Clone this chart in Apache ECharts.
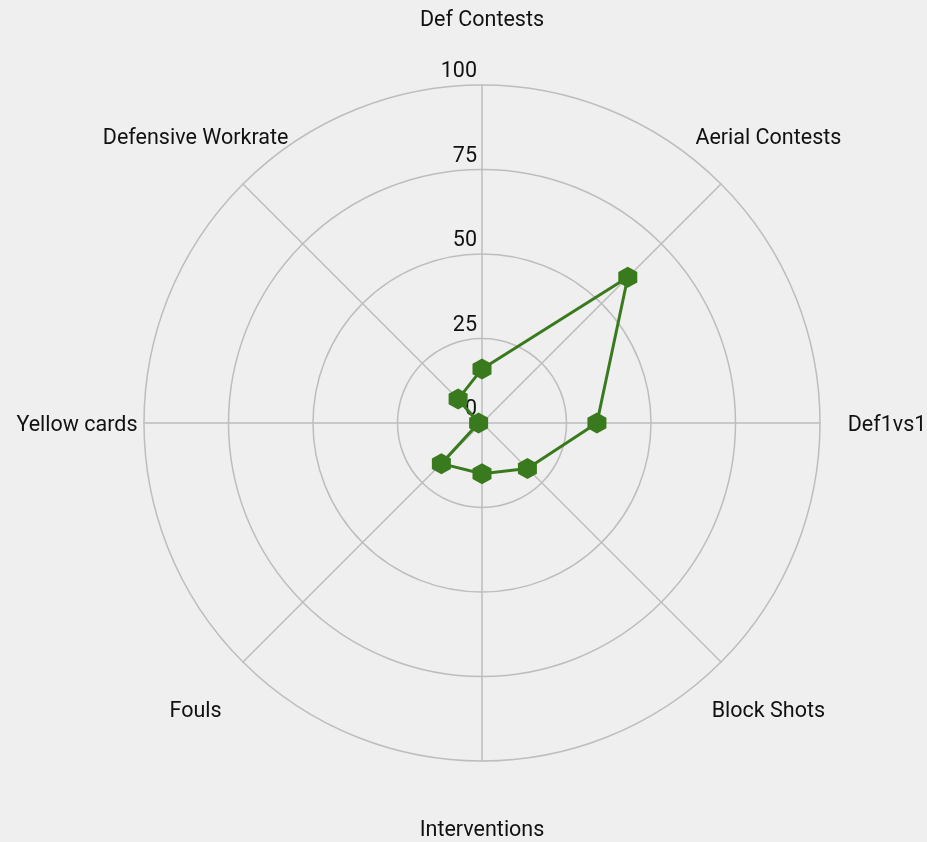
<!DOCTYPE html>
<html>
<head>
<meta charset="utf-8">
<script src="https://cdn.jsdelivr.net/npm/echarts@6/dist/echarts.min.js"></script>
<style>
html,body{margin:0;padding:0;background:#efefef;}
#chart{width:927px;height:842px;}
</style>
</head>
<body>
<div id="chart"></div>
<script>
// clockwise from top
const categories = ['Def Contests','Aerial Contests','Def1vs1','Block Shots','Interventions','Fouls','Yellow cards','Defensive Workrate'];
const values = [16, 61, 34, 19, 15, 17, 1, 10];
const radiusTicks = [0, 25, 50, 75, 100];

// ECharts radar runs counter-clockwise: reorder (first stays at top)
const order = [0].concat(categories.slice(1).map((_, i) => categories.length - 1 - i));
const maxV = radiusTicks[radiusTicks.length - 1];
const indicator = order.map((idx, k) => {
  const ind = {name: categories[idx], min: radiusTicks[0], max: maxV};
  if (k !== 0) ind.axisLabel = {show: false};
  return ind;
});
const radarValues = order.map(idx => values[idx]);

const chart = echarts.init(document.getElementById('chart'), null, {renderer: 'canvas'});
const gridColor = '#bdbdbd';
chart.setOption({
  backgroundColor: '#efefef',
  animation: false,
  textStyle: {fontFamily: 'Roboto'},
  radar: {
    center: [482, 423],
    radius: 338,
    shape: 'circle',
    splitNumber: radiusTicks.length - 1,
    indicator: indicator,
    nameGap: 67,
    axisName: {
      color: '#111', fontSize: 21.5, fontFamily: 'Roboto',
      align: 'center', verticalAlign: 'middle',
      lineHeight: 22,
      rich: {n: {fontSize: 21.5, fontFamily: 'Roboto', color: '#111', lineHeight: 22, padding: [5, 0, 0, 0]}},
      formatter: function (name) { return '{n|' + name + '}'; }
    },
    axisLine: {show: true, lineStyle: {color: gridColor, width: 1.5}},
    splitLine: {show: true, lineStyle: {color: gridColor, width: 1.5}},
    splitArea: {show: false},
    axisTick: {show: false},
    axisLabel: {
      show: true, margin: 5, align: 'right', verticalAlign: 'bottom',
      padding: [0, 0, 2, 0],
      color: '#111', fontSize: 21.5, fontFamily: 'Roboto',
      showMinLabel: true, showMaxLabel: true
    }
  },
  series: [{
    type: 'radar',
    data: [{value: radarValues, name: 'Player'}],
    symbol: 'path://M0,-1 L0.866,-0.5 L0.866,0.5 L0,1 L-0.866,0.5 L-0.866,-0.5 Z',
    symbolSize: [19, 21],
    lineStyle: {color: '#3a7a1e', width: 3},
    itemStyle: {color: '#3a7a1e'},
    z: 5
  }]
});
</script>
</body>
</html>
